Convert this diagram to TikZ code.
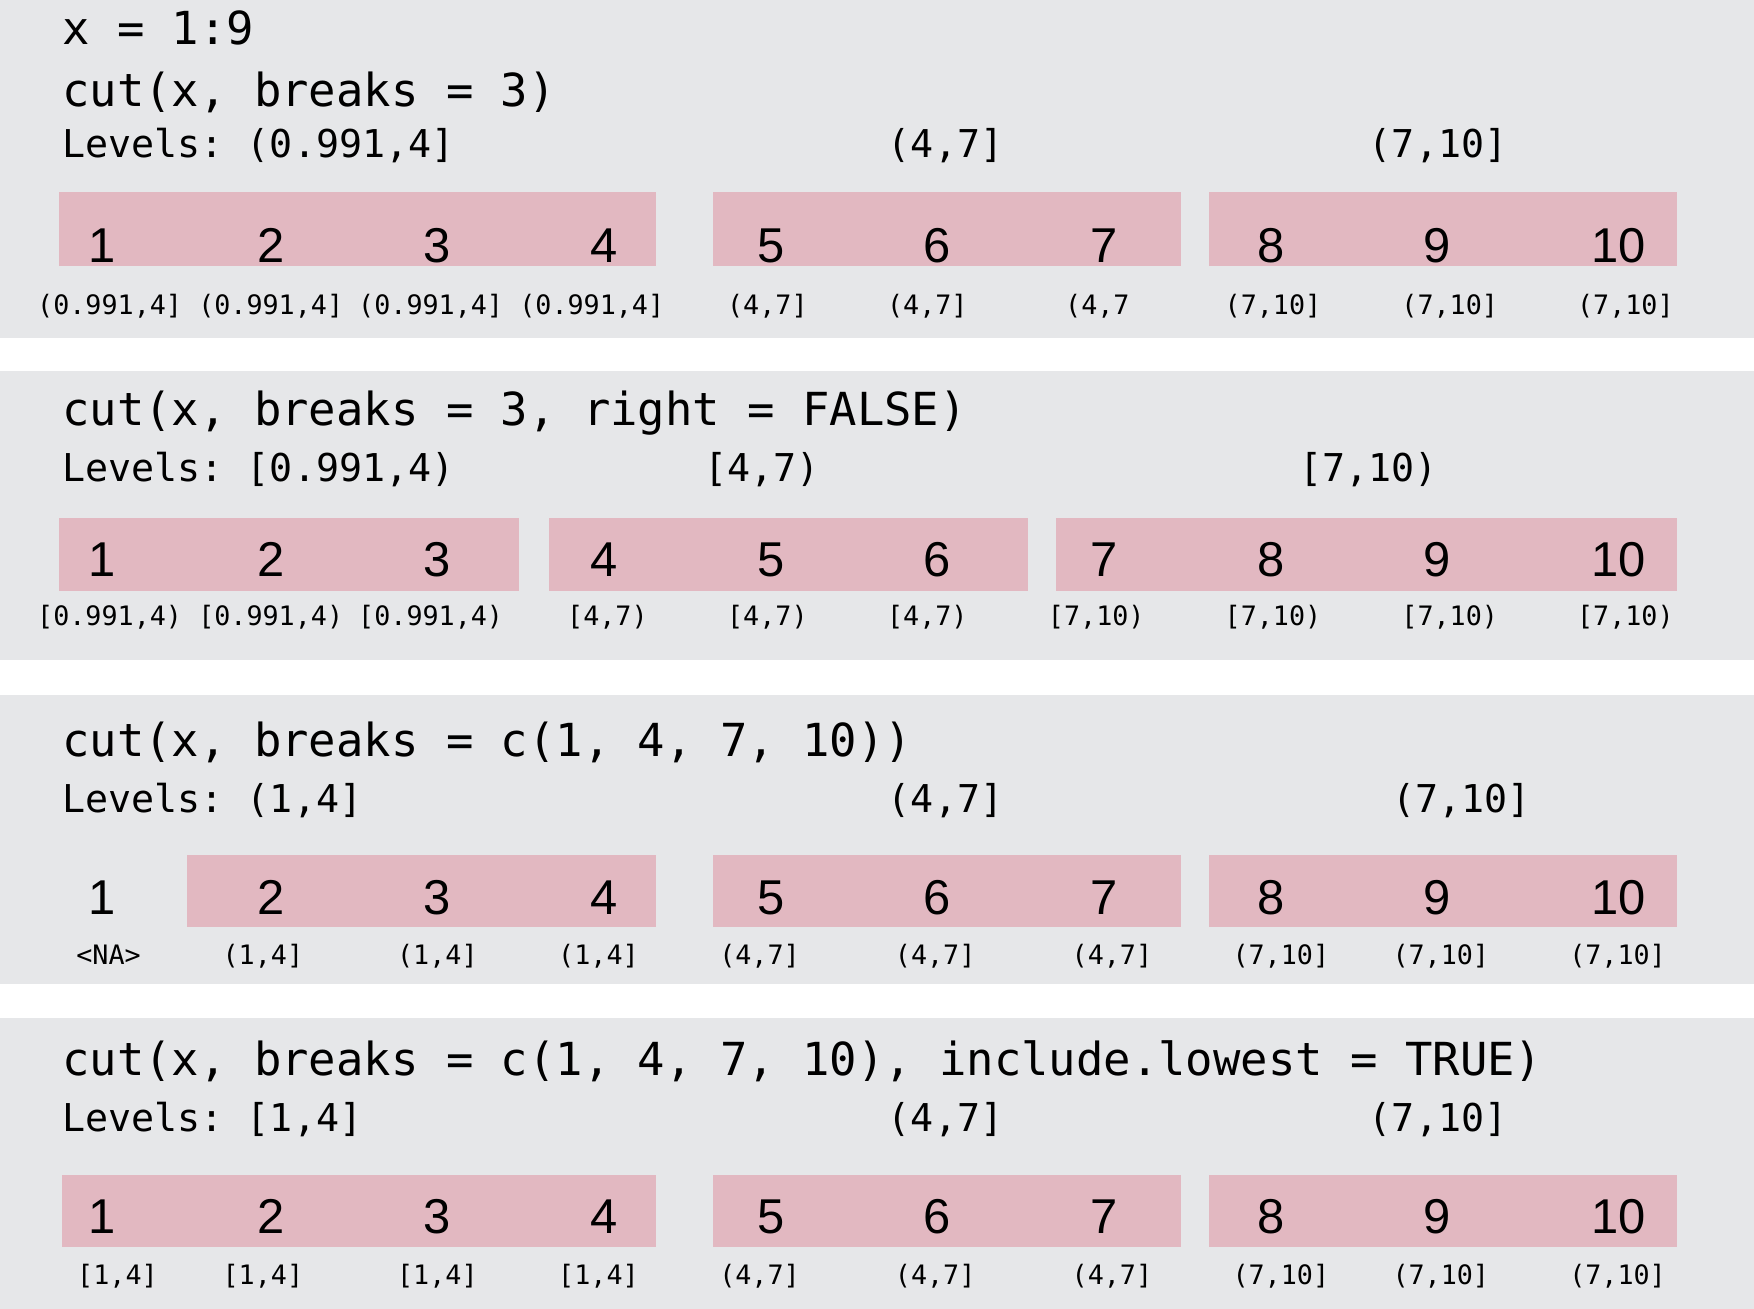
\documentclass[tikz,border=0pt]{standalone}
\usepackage{fontspec}
\setmonofont{DejaVu Sans Mono}
\newfontfamily\digitfont{Liberation Sans}
\definecolor{panelgray}{RGB}{230,231,233}
\definecolor{binpink}{RGB}{226,184,193}
\tikzset{
 code/.style={anchor=base west,inner sep=0pt,font=\ttfamily\fontsize{11.58}{14}\selectfont},
 lev/.style={anchor=base west,inner sep=0pt,font=\ttfamily\fontsize{9.75}{12}\selectfont},
 lbl/.style={anchor=base,inner sep=0pt,font=\ttfamily\fontsize{6.8}{8}\selectfont},
 num/.style={anchor=base,inner sep=0pt,font=\digitfont\fontsize{12.44}{15}\selectfont},
 panel/.style={fill=panelgray},
 bin/.style={fill=binpink},
}
\newcommand\numrow[2]{%
 \foreach \n/\xx in {1/91,2/242,3/391,4/540,5/689,6/838,7/987,8/1136,9/1285,10/1447}
   \node[num] (#1n\n) at (\xx,#2) {\n};}
\begin{document}
\begin{tikzpicture}[x=0.1mm,y=-0.1mm]
\useasboundingbox (0,0) rectangle (1568,1170);
\fill[white] (0,0) rectangle (1568,1170);
% panels
\fill[panel] (0,0) rectangle (1568,302);
\fill[panel] (0,332) rectangle (1568,590);
\fill[panel] (0,621) rectangle (1568,880);
\fill[panel] (0,910) rectangle (1568,1170);

% ---------- panel 1
\node[code] (a0) at (55,40) {x = 1:9};
\node[code] (a1) at (55,95) {cut(x, breaks = 3)};
\node[lev] (a2) at (55,140.5) {Levels: (0.991,4]};
\node[lev] (a3) at (793,140.5) {(4,7]};
\node[lev] (a4) at (1223,140.5) {(7,10]};
\fill[bin] (53,172) rectangle (586,238);
\fill[bin] (637,172) rectangle (1056,238);
\fill[bin] (1081,172) rectangle (1499,238);
\numrow{a}{235}
\node[lbl] (al1) at (98,281.4) {(0.991,4]};
\node[lbl] (al2) at (242,281.4) {(0.991,4]};
\node[lbl] (al3) at (385,281.4) {(0.991,4]};
\node[lbl] (al4) at (529,281.4) {(0.991,4]};
\node[lbl] (al5) at (686,281.4) {(4,7]};
\node[lbl] (al6) at (829,281.4) {(4,7]};
\node[lbl] (al7) at (981,281.4) {(4,7};
\node[lbl] (al8) at (1138,281.4) {(7,10]};
\node[lbl] (al9) at (1296,281.4) {(7,10]};
\node[lbl] (al10) at (1453,281.4) {(7,10]};

% ---------- panel 2
\node[code] (b1) at (55,380) {cut(x, breaks = 3, right = FALSE)};
\node[lev] (b2) at (55,430.6) {Levels: [0.991,4)};
\node[lev] (b3) at (629,430.6) {[4,7)};
\node[lev] (b4) at (1161,430.6) {[7,10)};
\fill[bin] (53,463) rectangle (464,528);
\fill[bin] (491,463) rectangle (919,528);
\fill[bin] (944,463) rectangle (1499,528);
\numrow{b}{515.5}
\node[lbl] (bl1) at (98,559.6) {[0.991,4)};
\node[lbl] (bl2) at (242,559.6) {[0.991,4)};
\node[lbl] (bl3) at (385,559.6) {[0.991,4)};
\node[lbl] (bl4) at (543,559.6) {[4,7)};
\node[lbl] (bl5) at (686,559.6) {[4,7)};
\node[lbl] (bl6) at (829,559.6) {[4,7)};
\node[lbl] (bl7) at (980,559.6) {[7,10)};
\node[lbl] (bl8) at (1138,559.6) {[7,10)};
\node[lbl] (bl9) at (1296,559.6) {[7,10)};
\node[lbl] (bl10) at (1453,559.6) {[7,10)};

% ---------- panel 3
\node[code] (c1) at (55,676) {cut(x, breaks = c(1, 4, 7, 10))};
\node[lev] (c2) at (55,726.5) {Levels: (1,4]};
\node[lev] (c3) at (793,726.5) {(4,7]};
\node[lev] (c4) at (1244,726.5) {(7,10]};
\fill[bin] (167,764) rectangle (586,829);
\fill[bin] (637,764) rectangle (1056,829);
\fill[bin] (1081,764) rectangle (1499,829);
\numrow{c}{817.4}
\node[lbl] (cl1) at (97,862.4) {<NA>};
\node[lbl] (cl2) at (235,862.4) {(1,4]};
\node[lbl] (cl3) at (391,862.4) {(1,4]};
\node[lbl] (cl4) at (535,862.4) {(1,4]};
\node[lbl] (cl5) at (679,862.4) {(4,7]};
\node[lbl] (cl6) at (836,862.4) {(4,7]};
\node[lbl] (cl7) at (994,862.4) {(4,7]};
\node[lbl] (cl8) at (1145,862.4) {(7,10]};
\node[lbl] (cl9) at (1288,862.4) {(7,10]};
\node[lbl] (cl10) at (1446,862.4) {(7,10]};

% ---------- panel 4
\node[code] (d1) at (55,961) {cut(x, breaks = c(1, 4, 7, 10), include.lowest = TRUE)};
\node[lev] (d2) at (55,1011.7) {Levels: [1,4]};
\node[lev] (d3) at (793,1011.7) {(4,7]};
\node[lev] (d4) at (1223,1011.7) {(7,10]};
\fill[bin] (55,1050) rectangle (586,1115);
\fill[bin] (637,1050) rectangle (1056,1115);
\fill[bin] (1081,1050) rectangle (1499,1115);
\numrow{d}{1102.6}
\node[lbl] (dl1) at (105,1148) {[1,4]};
\node[lbl] (dl2) at (235,1148) {[1,4]};
\node[lbl] (dl3) at (391,1148) {[1,4]};
\node[lbl] (dl4) at (535,1148) {[1,4]};
\node[lbl] (dl5) at (679,1148) {(4,7]};
\node[lbl] (dl6) at (836,1148) {(4,7]};
\node[lbl] (dl7) at (994,1148) {(4,7]};
\node[lbl] (dl8) at (1145,1148) {(7,10]};
\node[lbl] (dl9) at (1288,1148) {(7,10]};
\node[lbl] (dl10) at (1446,1148) {(7,10]};
\end{tikzpicture}
\end{document}
